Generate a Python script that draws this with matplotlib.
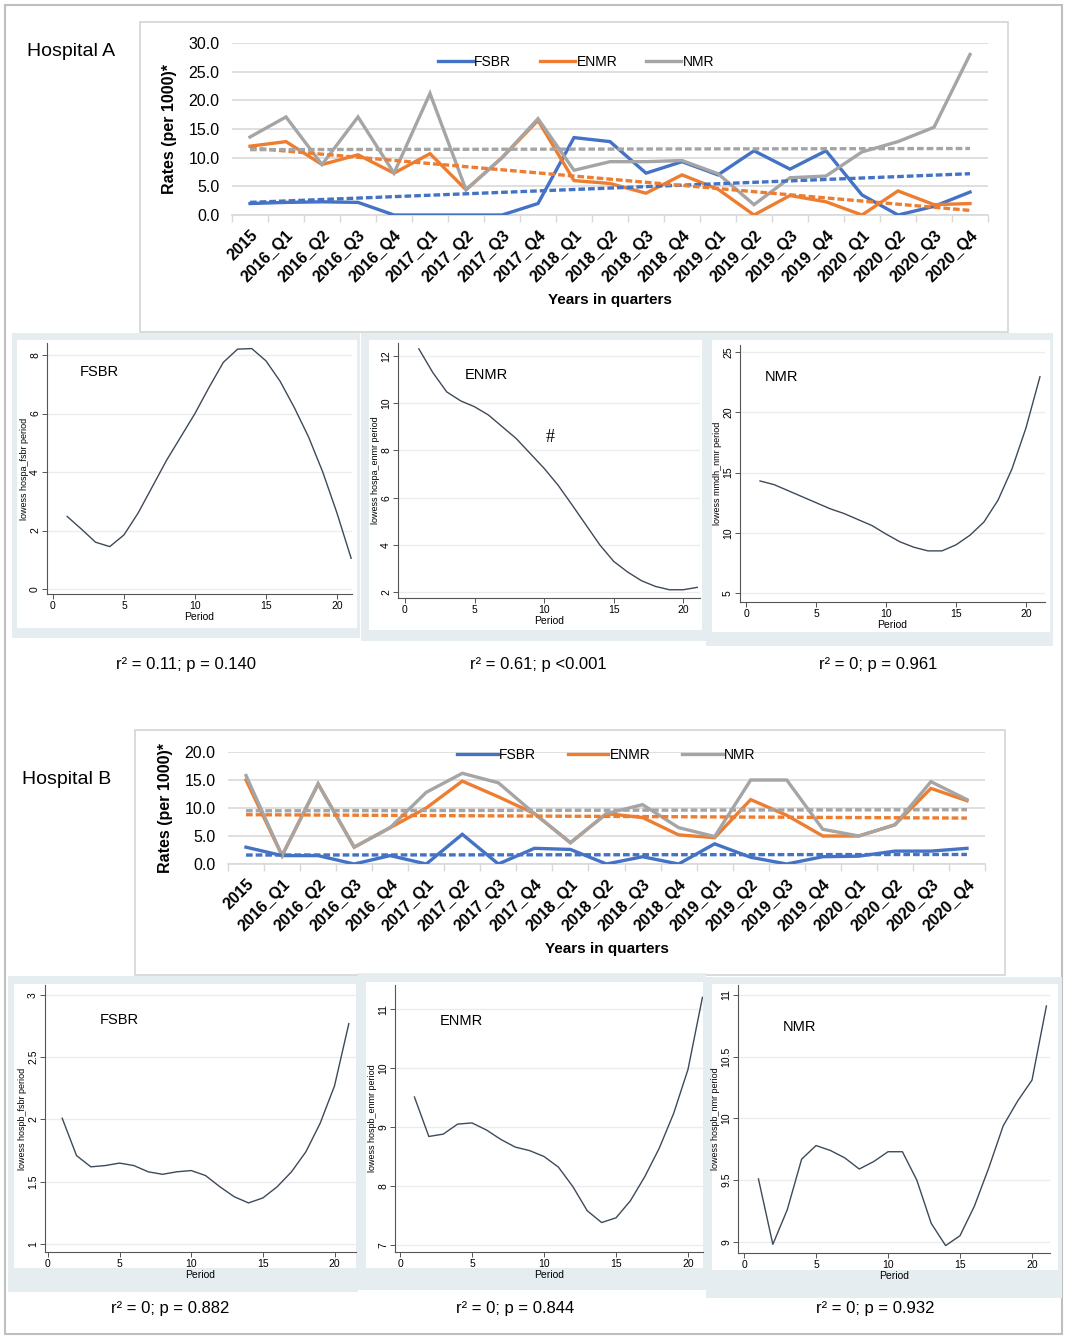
import numpy as np
import matplotlib
matplotlib.use("Agg")
import matplotlib.pyplot as plt
from matplotlib.patches import Rectangle

# ---------------- data ----------------
quarters = ["2015",
            "2016_Q1", "2016_Q2", "2016_Q3", "2016_Q4",
            "2017_Q1", "2017_Q2", "2017_Q3", "2017_Q4",
            "2018_Q1", "2018_Q2", "2018_Q3", "2018_Q4",
            "2019_Q1", "2019_Q2", "2019_Q3", "2019_Q4",
            "2020_Q1", "2020_Q2", "2020_Q3", "2020_Q4"]
series_names = ["FSBR", "ENMR", "NMR"]

# Hospital A rates (per 1000)
a_fsbr = [2.0, 2.2, 2.3, 2.2, 0.0, 0.0, 0.0, 0.0, 2.0, 13.5, 12.8,
          7.3, 9.3, 7.0, 11.2, 8.0, 11.2, 3.5, 0.0, 1.5, 4.0]
a_enmr = [12.0, 12.8, 8.8, 10.5, 7.3, 10.7, 4.4, 10.0, 16.5, 6.0, 5.5,
          3.8, 7.0, 4.5, 0.0, 3.4, 2.3, 0.0, 4.2, 1.8, 2.0]
a_nmr = [13.6, 17.1, 8.8, 17.1, 7.3, 21.2, 4.4, 10.0, 16.8, 7.8, 9.3,
         9.3, 9.5, 7.2, 1.8, 6.5, 6.8, 11.0, 12.8, 15.3, 28.0]
# linear trend values at first / last quarter
a_trend_fsbr = [2.2, 7.2]
a_trend_enmr = [11.7, 0.8]
a_trend_nmr = [11.4, 11.6]

# Hospital B rates (per 1000)
b_fsbr = [3.0, 1.5, 1.5, 0.0, 1.5, 0.0, 5.3, 0.0, 2.8, 2.6, 0.0,
          1.3, 0.0, 3.6, 1.2, 0.0, 1.3, 1.4, 2.3, 2.3, 2.8]
b_enmr = [15.0, 1.5, 14.3, 3.0, 6.5, 10.0, 14.8, 12.0, 9.0, 3.8, 9.0,
          8.3, 5.2, 4.7, 11.5, 8.7, 5.0, 5.0, 7.0, 13.5, 11.3]
b_nmr = [15.8, 1.5, 14.3, 3.0, 6.5, 12.8, 16.2, 14.5, 9.0, 3.8, 9.0,
         10.6, 6.5, 4.9, 15.0, 15.0, 6.2, 5.0, 7.0, 14.7, 11.5]
b_trend_fsbr = [1.6, 1.7]
b_trend_enmr = [8.8, 8.2]
b_trend_nmr = [9.5, 9.7]

# lowess smoothed values, periods 1..21
periods = list(range(1, 22))
lw_a_fsbr = [2.48, 2.05, 1.6, 1.45, 1.85, 2.6, 3.5, 4.4, 5.2, 6.0, 6.9,
             7.75, 8.2, 8.22, 7.8, 7.1, 6.2, 5.2, 4.0, 2.6, 1.05]
lw_a_enmr = [12.3, 11.3, 10.48, 10.1, 9.85, 9.5, 9.0, 8.5, 7.87, 7.24, 6.53,
             5.7, 4.85, 4.0, 3.3, 2.85, 2.48, 2.24, 2.1, 2.1, 2.2]
lw_a_nmr = [14.3, 14.0, 13.5, 13.0, 12.5, 12.0, 11.6, 11.1, 10.6, 9.9, 9.25,
            8.8, 8.5, 8.5, 9.0, 9.8, 10.9, 12.7, 15.3, 18.7, 22.95]
lw_b_fsbr = [2.01, 1.71, 1.62, 1.63, 1.65, 1.63, 1.58, 1.56, 1.58, 1.59, 1.55,
             1.46, 1.38, 1.33, 1.37, 1.46, 1.58, 1.74, 1.97, 2.27, 2.77]
lw_b_enmr = [9.51, 8.84, 8.88, 9.05, 9.07, 8.95, 8.79, 8.66, 8.6, 8.5, 8.32,
             7.99, 7.58, 7.38, 7.46, 7.75, 8.16, 8.64, 9.23, 9.98, 11.2]
lw_b_nmr = [9.51, 8.98, 9.26, 9.67, 9.78, 9.74, 9.68, 9.59, 9.65, 9.73, 9.73,
            9.5, 9.15, 8.97, 9.05, 9.29, 9.6, 9.94, 10.14, 10.31, 10.91]

period_ticks = [0, 5, 10, 15, 20]
yt_a_fsbr = [0, 2, 4, 6, 8]
yt_a_enmr = [2, 4, 6, 8, 10, 12]
yt_a_nmr = [5, 10, 15, 20, 25]
yt_b_fsbr = [1, 1.5, 2, 2.5, 3]
yt_b_enmr = [7, 8, 9, 10, 11]
yt_b_nmr = [9, 9.5, 10, 10.5, 11]
yl_b_fsbr = ["1", "1.5", "2", "2.5", "3"]
yl_b_nmr = ["9", "9.5", "10", "10.5", "11"]

stats_a = ["r² = 0.11; p = 0.140", "r² = 0.61; p <0.001", "r² = 0; p = 0.961"]
stats_b = ["r² = 0; p = 0.882", "r² = 0; p = 0.844", "r² = 0; p = 0.932"]

# ---------------- styling ----------------
C_FSBR, C_ENMR, C_NMR = "#4472C4", "#ED7D31", "#A5A5A5"
GRID = "#d9d9d9"
FRAME = "#e6edf1"
CURVE = "#3d4a5a"
FONT = ["Liberation Sans", "DejaVu Sans"]
plt.rcParams["font.family"] = FONT

W, H = 1067, 1340
fig = plt.figure(figsize=(W / 100, H / 100), dpi=100)
fig.patch.set_facecolor("white")


def px_axes(l, t, r, b):
    return fig.add_axes([l / W, 1 - b / H, (r - l) / W, (b - t) / H], zorder=2)


def rect(l, t, r, b, z=-5, **kw):
    fig.patches.append(Rectangle((l / W, 1 - b / H), (r - l) / W, (b - t) / H,
                                 transform=fig.transFigure, zorder=z, **kw))


def ftext(x, y, s, **kw):
    fig.text(x / W, 1 - y / H, s, zorder=5, **kw)


# outer border and chart boxes
rect(5, 5, 1062, 1334, z=-6, facecolor="white", edgecolor="#bfbfbf", lw=1.5)
rect(140, 22, 1008, 332, facecolor="white", edgecolor="#d4d4d4", lw=1.2)
rect(135, 730, 1005, 975, facecolor="white", edgecolor="#d4d4d4", lw=1.2)

# lowess panel frames
frames = [
    ((12, 333, 360, 638), (17, 340, 357, 628)),
    ((361, 333, 706, 641), (369, 340, 702, 630)),
    ((706, 333, 1053, 646), (712, 340, 1050, 632)),
    ((8, 976, 358, 1292), (14, 984, 356, 1268)),
    ((358, 973, 706, 1290), (366, 982, 703, 1268)),
    ((706, 977, 1062, 1298), (712, 984, 1058, 1270)),
]
for outer, inner in frames:
    rect(*outer, z=-4, facecolor=FRAME, edgecolor="none")
    rect(*inner, z=-3, facecolor="white", edgecolor="none")


def hospital_chart(box, fsbr, enmr, nmr, trends, ymax, leg_anchor, hlen, cspace):
    ax = px_axes(*box)
    ax.set_facecolor("none")
    x = np.arange(len(quarters))
    h1, = ax.plot(x, fsbr, color=C_FSBR, lw=2.4, solid_joinstyle="miter", zorder=3)
    h2, = ax.plot(x, enmr, color=C_ENMR, lw=2.4, solid_joinstyle="miter", zorder=3)
    h3, = ax.plot(x, nmr, color=C_NMR, lw=2.4, solid_joinstyle="miter", zorder=3)
    xe = [x[0], x[-1]]
    for tr, c in zip(trends, [C_FSBR, C_ENMR, C_NMR]):
        ax.plot(xe, tr, color=c, lw=2.4, ls=(0, (2.0, 0.9)), zorder=4)
    ax.set_xlim(-0.5, len(quarters) - 0.5)
    ax.set_ylim(0, ymax)
    ax.set_yticks(np.arange(0, ymax + 0.1, 5))
    ax.set_yticklabels([f"{v:.1f}" for v in np.arange(0, ymax + 0.1, 5)])
    ax.set_xticks(x)
    ax.set_xticklabels(quarters, rotation=45, ha="right", rotation_mode="anchor",
                       fontweight="bold", fontsize=11.5)
    ax.set_xticks(np.arange(-0.5, len(quarters)), minor=True)
    ax.tick_params(axis="x", which="major", length=0, pad=9)
    ax.tick_params(axis="x", which="minor", length=5, color=GRID, width=1)
    ax.tick_params(axis="y", length=0, labelsize=11.5, pad=9)
    ax.grid(axis="y", color=GRID, lw=1.2, zorder=0)
    for s in ["top", "right", "left"]:
        ax.spines[s].set_visible(False)
    ax.spines["bottom"].set_color(GRID)
    ax.spines["bottom"].set_linewidth(1.2)
    ax.spines["bottom"].set_zorder(1)
    ax.set_xlabel("Years in quarters", fontweight="bold", fontsize=11, labelpad=6)
    ax.set_ylabel("Rates (per 1000)*", fontweight="bold", fontsize=11.5, labelpad=8)
    ax.legend([h1, h2, h3], series_names, loc="center", bbox_to_anchor=leg_anchor,
              ncol=3, frameon=False, fontsize=10, handlelength=hlen,
              handletextpad=0.1, columnspacing=cspace, borderaxespad=0)
    return ax


axA = hospital_chart((232, 43, 988, 215), a_fsbr, a_enmr, a_nmr,
                     [a_trend_fsbr, a_trend_enmr, a_trend_nmr], 30, (0.455, 0.89),
                     2.5, 2.1)
axB = hospital_chart((228, 752, 985, 864), b_fsbr, b_enmr, b_nmr,
                     [b_trend_fsbr, b_trend_enmr, b_trend_nmr], 20, (0.50, 0.97),
                     2.9, 2.3)
ftext(27, 52, "Hospital A", fontsize=14, va="center", ha="left")
ftext(22, 779, "Hospital B", fontsize=14, va="center", ha="left")


def lowess_panel(box, yvals, xlim, ylim, yticks, ylabel, title, title_xy, ylabels=None):
    ax = px_axes(*box)
    ax.set_facecolor("white")
    ax.plot(periods, yvals, color=CURVE, lw=1.0, zorder=3)
    ax.set_xlim(*xlim)
    ax.set_ylim(*ylim)
    ax.set_xticks(period_ticks)
    ax.set_yticks(yticks)
    if ylabels is not None:
        ax.set_yticklabels(ylabels)
    ax.grid(axis="y", color="#ececec", lw=1.0, zorder=0)
    for s in ["top", "right"]:
        ax.spines[s].set_visible(False)
    for s in ["left", "bottom"]:
        ax.spines[s].set_color("#555555")
        ax.spines[s].set_linewidth(0.8)
    ax.tick_params(length=3.5, width=0.7, color="#555555", labelsize=7.5, pad=1.5)
    for lab in ax.get_yticklabels():
        lab.set_rotation(90)
        lab.set_va("center")
    ax.set_xlabel("Period", fontsize=7.5, labelpad=0.5)
    ax.set_ylabel(ylabel, fontsize=6.5, labelpad=1)
    ftext(title_xy[0], title_xy[1], title, fontsize=10.5, va="center", ha="left")
    return ax


lowess_panel((47, 343, 352, 594), lw_a_fsbr, (-0.42, 21.06), (-0.17, 8.41),
             yt_a_fsbr, "lowess hospa_fsbr period", "FSBR", (80, 372))
lowess_panel((398, 343, 700, 598), lw_a_enmr, (-0.5, 21.2), (1.75, 12.55),
             yt_a_enmr, "lowess hospa_enmr period", "ENMR", (465, 375))
ftext(550, 438, "#", fontsize=13, family=["Liberation Serif"], ha="center", va="center")
lowess_panel((740, 345, 1045, 602), lw_a_nmr, (-0.43, 21.36), (4.26, 25.58),
             yt_a_nmr, "lowess mmdh_nmr period", "NMR", (765, 377))

lowess_panel((45, 985, 356, 1252), lw_b_fsbr, (-0.2, 21.5), (0.936, 3.08),
             yt_b_fsbr, "lowess hospb_fsbr period", "FSBR", (100, 1020), yl_b_fsbr)
lowess_panel((395, 985, 703, 1252), lw_b_enmr, (-0.35, 21.04), (6.88, 11.41),
             yt_b_enmr, "lowess hospb_enmr period", "ENMR", (440, 1021))
lowess_panel((738, 985, 1050, 1253), lw_b_nmr, (-0.42, 21.25), (8.91, 11.08),
             yt_b_nmr, "lowess hospb_nmr period", "NMR", (783, 1027), yl_b_nmr)

for s, xc in zip(stats_a, [186, 538, 878]):
    ftext(xc, 665, s, fontsize=12, ha="center", va="center")
for s, xc in zip(stats_b, [170, 515, 875]):
    ftext(xc, 1309, s, fontsize=12, ha="center", va="center")

fig.savefig("out.png", dpi=100, facecolor="white")
